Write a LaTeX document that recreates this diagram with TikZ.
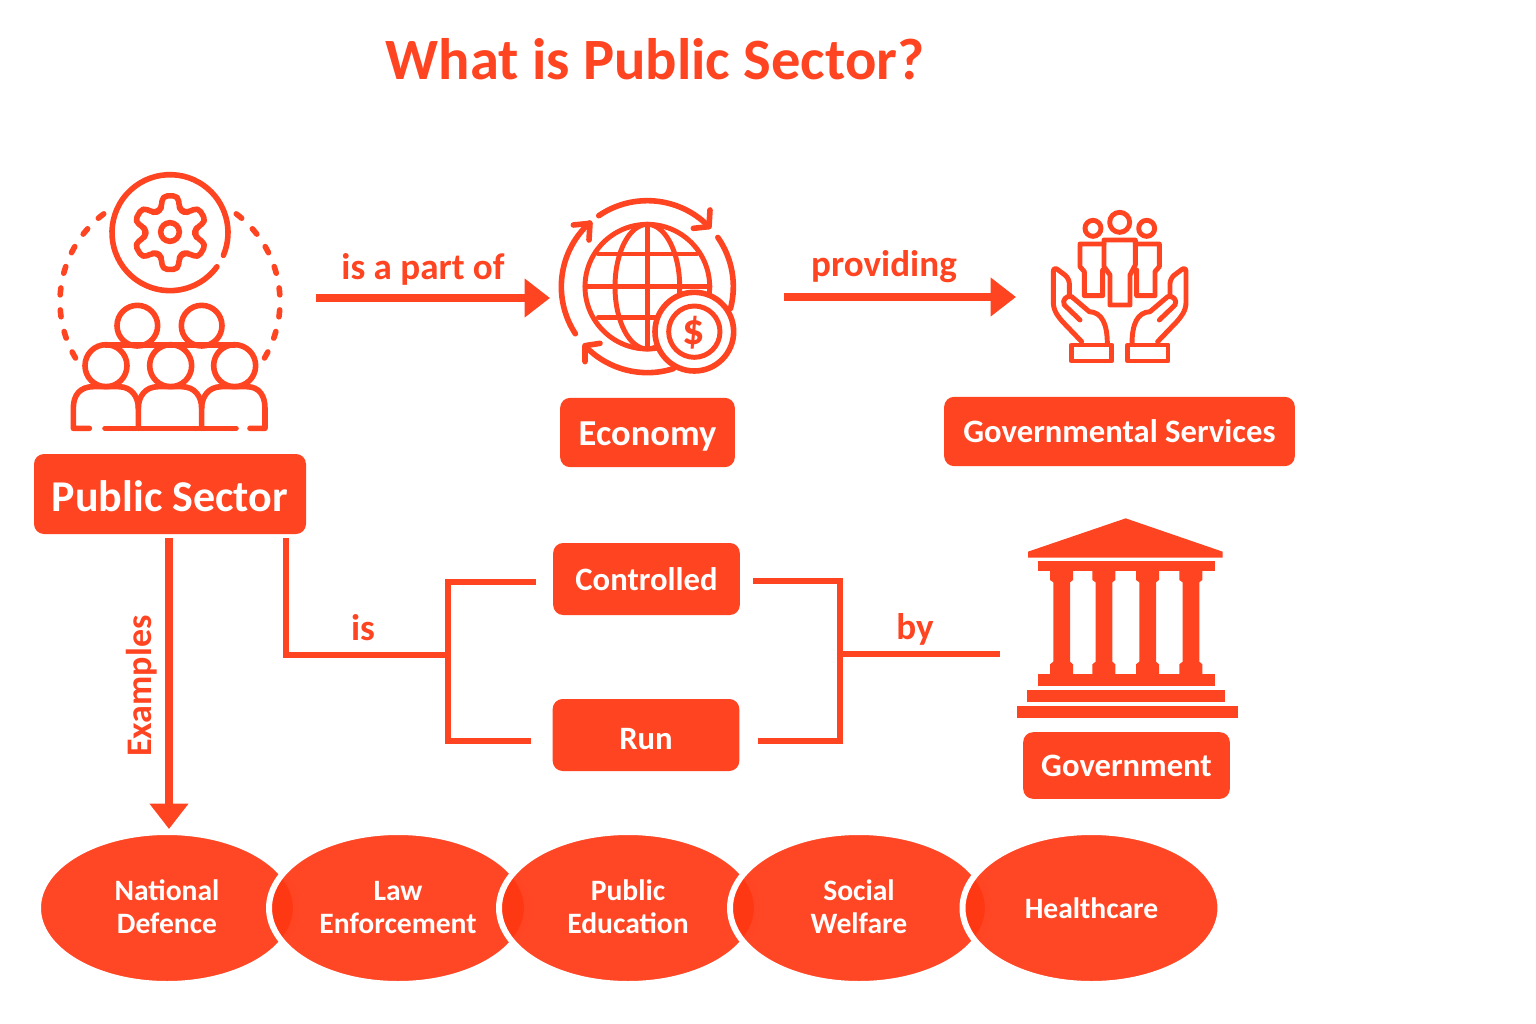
\documentclass[tikz,border=0pt]{standalone}
\usepackage{fontspec}
\setmainfont{Carlito}
\usetikzlibrary{arrows.meta,shapes.geometric}
\definecolor{pubred}{RGB}{255,68,34}
\definecolor{ovalred}{RGB}{255,54,18}

\tikzset{every picture/.style={line width=0.75pt}}
\tikzset{
  boxnode/.style={fill=pubred,text=white,rounded corners=7.5pt,inner sep=0pt,font=\bfseries\fontsize{24.5pt}{30pt}\selectfont},
  ovalnode/.style={ellipse,fill=ovalred,fill opacity=0.92,draw=white,draw opacity=1,text opacity=1,line width=4.5pt,text=white,
    minimum width=193.5pt,minimum height=114pt,inner sep=0pt,align=center,text height=39.5pt,text depth=1.25pt,font=\bfseries\fontsize{22.2pt}{24.75pt}\selectfont},
  labelnode/.style={text=pubred,inner sep=0pt,font=\bfseries\fontsize{27.8pt}{30pt}\selectfont},
  bigarrow/.style={draw=pubred,line width=6pt,-{Triangle[length=19pt,width=28pt]}},
  elbowline/.style={draw=pubred,line width=4.5pt,miter limit=4},
  iconline/.style={draw=pubred,line width=4.2pt,line cap=round,line join=round},
  thinline/.style={draw=pubred,line width=3.7pt,line cap=round,line join=round},
}

\begin{document}
\begin{tikzpicture}[x=0.75pt,y=0.75pt,yscale=-1,xscale=1]
\useasboundingbox (0,0) rectangle (1536,1024);

% Text Node
\node (title) at (655,59) [text=pubred,inner sep=0pt,font=\bfseries\fontsize{43.9pt}{48pt}\selectfont] {What is Public Sector?};

%Shape: Rectangle
\node (pubsec) at (170,494) [boxnode,minimum width=204pt,minimum height=60pt,text height=25.5pt,text depth=0pt,font=\bfseries\fontsize{33pt}{36pt}\selectfont] {Public Sector};
\node (economy) at (647.5,432.5) [boxnode,minimum width=131pt,minimum height=52pt,text height=20pt,text depth=0pt,font=\bfseries\fontsize{27.4pt}{30pt}\selectfont] {Economy};
\node (govserv) at (1119.5,431.5) [boxnode,minimum width=263pt,minimum height=52pt] {Governmental Services};
\node (controlled) at (646.5,579) [boxnode,minimum width=140pt,minimum height=54pt] {Controlled};
\node (run) at (646,735) [boxnode,minimum width=140pt,minimum height=54pt,text height=21.5pt,text depth=0pt] {Run};
\node (government) at (1126.5,765.5) [boxnode,minimum width=155pt,minimum height=50pt] {Government};

%Shape: Ellipse
\node (defence) at (167,908) [ovalnode] {National\\Defence};
\node (law) at (398,908) [ovalnode] {Law\\Enforcement};
\node (education) at (628,908) [ovalnode] {Public\\Education};
\node (welfare) at (859,908) [ovalnode] {Social\\Welfare};
\node (healthcare) at (1091.5,908) [ovalnode,text height=17pt] {Healthcare};

%Free ends of the connectors
\coordinate (partstart) at (316,298);
\coordinate (parttip) at (550,298);
\coordinate (provstart) at (784,297);
\coordinate (provtip) at (1016,297);
\coordinate (exstart) at (169,538);
\coordinate (extip) at (169,829);
\coordinate (isstart) at (286,538);
\coordinate (iscorner) at (286,655);
\coordinate (isjoin) at (448,655);
\coordinate (ctrlleft) at (536,582);
\coordinate (runleft) at (531,741);
\coordinate (ctrlright) at (753,581);
\coordinate (runright) at (758,741);
\coordinate (byjoin) at (840,654);
\coordinate (byend) at (1000,654);

%Straight Lines
\draw [bigarrow] (partstart) -- (parttip);
\draw [bigarrow] (provstart) -- (provtip);
\draw [bigarrow] (exstart) -- (extip);
\draw [elbowline] (isstart) -- (iscorner) -- (isjoin);
\draw [elbowline] (ctrlleft) -- (448,582) -- (448,741) -- (runleft);
\draw [elbowline] (ctrlright) -- (840,581) -- (840,741) -- (runright);
\draw [elbowline] (byjoin) -- (byend);

% Text Node
\node (partlabel) at (423,269) [labelnode] {is a part of};
\node (provlabel) at (884,267) [labelnode] {providing};
\node (islabel) at (363,628) [labelnode] {is};
\node (bylabel) at (915,629) [labelnode] {by};
\node (exlabel) at (142,686) [labelnode,rotate=90,font=\bfseries\fontsize{27pt}{30pt}\selectfont] {Examples};

%Icon: people and gear
\begin{scope}[shift={(30,160)},scale=1/3]
\draw [iconline] (420,218) ++(36:174) arc [start angle=36,end angle=383,radius=174];
\draw [iconline] (420,216) circle [radius=28];
\begin{scope}[shift={(421,218)}]
\draw [iconline,rounded corners=4pt] (12:82) \foreach \a in {30,90,150,210,270} { -- (\a-12.7:113) -- (\a+12.7:113) -- (\a+18:82) -- (\a+30:72) -- (\a+42:82) } -- (317.3:113) -- (342.7:113) -- (348:82) -- (360:72) -- cycle;
\end{scope}
\foreach \a in {151,162.45,173.9,185.35,196.8,208.25,219.7,231.15} {
  \draw [iconline] (420,425) ++(\a-1.8:330) arc [start angle=\a-1.8,end angle=\a+1.8,radius=330];
  \draw [iconline] (420,425) ++(178.2-\a:330) arc [start angle=178.2-\a,end angle=181.8-\a,radius=330];
}
\draw [iconline] (322,497) circle [radius=61];
\draw [iconline] (515,497) circle [radius=61];
\draw [iconline] (228,617) circle [radius=63];
\draw [iconline] (422,617) circle [radius=63];
\draw [iconline] (614,617) circle [radius=63];
\draw [iconline] (228,555) -- (614,555);
\draw [iconline] (178,805) -- (130,805) -- (130,745) .. controls (130,705) and (150,680) .. (190,680) -- (265,680) .. controls (305,680) and (325,710) .. (325,745) -- (325,805);
\draw [iconline] (325,745) .. controls (325,710) and (345,680) .. (385,680) -- (455,680) .. controls (495,680) and (515,710) .. (515,745) -- (515,805);
\draw [iconline] (515,745) .. controls (515,710) and (535,680) .. (575,680) -- (650,680) .. controls (690,680) and (705,710) .. (705,745) -- (705,805) -- (660,805);
\draw [iconline] (225,805) -- (618,805);
\end{scope}

%Icon: globe and coin
\begin{scope}[shift={(540,180)},scale=1/3]
\draw [thinline] (322,320) circle [radius=187];
\draw [thinline] (322,320) ellipse [x radius=97,y radius=187];
\draw [thinline] (322,133) -- (322,507);
\draw [thinline] (175,222) -- (470,222);
\draw [thinline] (135,320) -- (510,320);
\draw [thinline] (175,412) -- (470,412);
\draw [iconline] (322,320) ++(235.6:258) arc [start angle=235.6,end angle=315.5,radius=258];
\draw [iconline] (460,145) -- (507,140) -- (510,90);
\draw [iconline] (322,320) ++(-34.9:258) arc [start angle=-34.9,end angle=14.7,radius=258];
\draw [iconline] (322,320) ++(146.8:258) arc [start angle=146.8,end angle=227.8,radius=258];
\draw [iconline] (100,135) -- (150,130) -- (147,180);
\draw [iconline] (322,320) ++(72.3:258) arc [start angle=72.3,end angle=136,radius=258];
\draw [iconline] (180,490) -- (135,497) -- (135,545);
\draw [iconline,fill=white] (463,455) circle [radius=118];
\draw [thinline] (463,455) circle [radius=77];
\node (dollar) at (461,457) [text=pubred,inner sep=0pt,font=\bfseries\fontsize{33pt}{33pt}\selectfont] {\$};
\end{scope}

%Icon: hands and people
\begin{scope}[shift={(1030,195)},scale=1/3]
\draw [thinline] (269,82) circle [radius=30];
\draw [thinline] (189,100) circle [radius=24];
\draw [thinline] (350,100) circle [radius=24];
\draw [thinline] (222,135) -- (316,135) -- (316,210) -- (300,240) -- (300,330) -- (240,330) -- (240,240) -- (222,215) -- cycle;
\draw [thinline] (222,147) -- (150,147) -- (150,215) -- (163,230) -- (163,302) -- (218,302) -- (218,225);
\draw [thinline] (316,147) -- (388,147) -- (388,215) -- (375,230) -- (375,302) -- (320,302) -- (320,225);
\foreach \m/\o in {1/0,-1/538} {
  \begin{scope}[shift={(\o,0)},xscale=\m]
  \draw [thinline,rounded corners=4pt] (155,440) -- (88,370) -- (70,340) -- (70,214) -- (118,250) -- (118,305);
  \draw [thinline] (150,375) -- (103,330) .. controls (95,315) and (110,300) .. (125,305) -- (178,350) .. controls (215,352) and (232,385) .. (232,448);
  \draw [thinline] (124,450) rectangle (245,498);
  \end{scope}
}
\end{scope}

%Icon: government building
\begin{scope}[shift={(1000,505)},scale=1/3,fill=pubred]
\fill (377,40) -- (668,140) -- (668,158) -- (84,158) -- (84,140) -- cycle;
\fill (115,168) rectangle (645,198);
\fill (115,507) rectangle (645,542);
\fill (80,556) rectangle (676,592);
\fill (52,604) rectangle (714,638);
\foreach \x in {185,312,443,573} {
  \fill (\x-35,195) -- (\x+34,195) -- (\x+34,225) -- (\x+25,232) -- (\x+25,470) -- (\x+34,478) -- (\x+34,510) -- (\x-35,510) -- (\x-35,478) -- (\x-25,470) -- (\x-25,232) -- (\x-35,225) -- cycle;
}
\end{scope}

\end{tikzpicture}
\end{document}
